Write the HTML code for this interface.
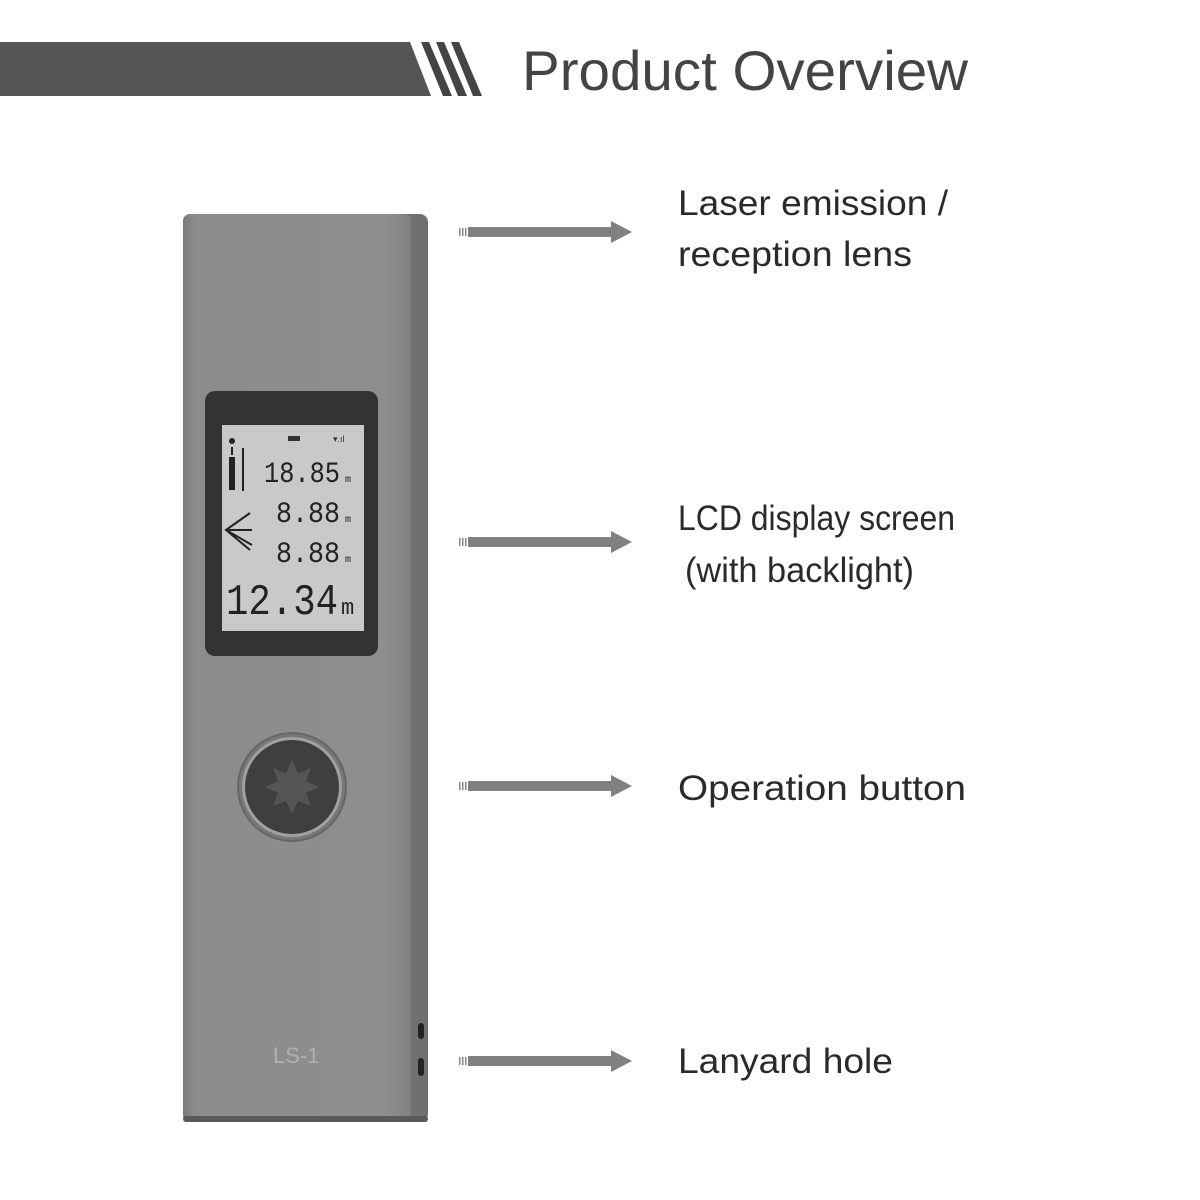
<!DOCTYPE html>
<html><head><meta charset="utf-8"><style>
html,body{margin:0;padding:0;background:#fff;width:1200px;height:1200px;overflow:hidden}
</style></head><body>
<svg width="1200" height="1200" viewBox="0 0 1200 1200" xmlns="http://www.w3.org/2000/svg">
<defs>
<linearGradient id="face" x1="0" x2="1" y1="0" y2="0">
<stop offset="0" stop-color="#7a7a7a"/><stop offset="0.05" stop-color="#8c8c8c"/><stop offset="0.9" stop-color="#8e8e8e"/><stop offset="1" stop-color="#808080"/>
</linearGradient>
<linearGradient id="side" x1="0" x2="1"><stop offset="0" stop-color="#6a6a6a"/><stop offset="0.5" stop-color="#8a8a8a"/><stop offset="1" stop-color="#6e6e6e"/></linearGradient>
<g id="arrow">
<rect x="0" y="-4" width="1.5" height="8" fill="#888"/>
<rect x="3" y="-4" width="1.5" height="8" fill="#888"/>
<rect x="6" y="-4" width="1.5" height="8" fill="#888"/>
<rect x="9" y="-5" width="146" height="10" fill="#808080"/>
<polygon points="152,-11 173,0 152,11" fill="#808080"/>
</g>
</defs>
<!-- header -->
<polygon points="0,42 410,42 431,96 0,96" fill="#555"/>
<polygon points="421,42 429,42 452,96 443,96" fill="#444"/>
<polygon points="436,42 444,42 467,96 458,96" fill="#444"/>
<polygon points="451,42 459,42 482,96 473,96" fill="#444"/>
<text x="522" y="90" font-family="Liberation Sans, sans-serif" font-size="56" fill="#444" textLength="446" lengthAdjust="spacingAndGlyphs">Product Overview</text>
<!-- device -->
<rect x="183" y="214" width="245" height="908" rx="8" fill="url(#side)"/>
<rect x="183" y="214" width="228" height="908" rx="7" fill="url(#face)"/>
<rect x="183" y="1116" width="245" height="6" rx="3" fill="#5a5a5a"/>
<!-- LCD -->
<rect x="205" y="391" width="173" height="265" rx="10" fill="#333"/>
<rect x="222" y="425" width="142" height="206" fill="#c9c9c9"/>
<g font-family="Liberation Mono, monospace" fill="#222">
<text x="264" y="482" font-size="30" textLength="76" lengthAdjust="spacingAndGlyphs">18.85</text>
<text x="276" y="522" font-size="30" textLength="64" lengthAdjust="spacingAndGlyphs">8.88</text>
<text x="276" y="562" font-size="30" textLength="64" lengthAdjust="spacingAndGlyphs">8.88</text>
<text x="226" y="614" font-size="44" textLength="112" lengthAdjust="spacingAndGlyphs">12.34</text>
<text x="345" y="482" font-size="10">m</text><text x="345" y="522" font-size="10">m</text><text x="345" y="562" font-size="10">m</text>
<text x="341" y="614" font-size="22">m</text>
</g>
<rect x="288" y="436" width="12" height="5" fill="#333"/>
<text x="333" y="442" font-size="9" fill="#333" font-family="Liberation Sans, sans-serif">▾.ıl</text>
<circle cx="232" cy="441" r="3" fill="#222"/>
<rect x="231" y="447" width="2" height="8" fill="#222"/>
<rect x="229" y="457" width="6" height="33" fill="#222"/>
<rect x="242" y="448" width="2" height="43" fill="#222"/>
<g stroke="#222" stroke-width="2" fill="none">
<path d="M250 513 L226 530 L250 550 M226 530 L252 530 M226 530 L252 545"/>
</g>
<!-- button -->
<circle cx="292" cy="787" r="54" fill="#777" stroke="#666" stroke-width="2"/>
<circle cx="292" cy="787" r="50" fill="#a0a0a0"/>
<circle cx="292" cy="787" r="47" fill="#3f3f3f"/>
<polygon fill="#555" points="292,760 298,773 311,768 306,781 319,787 306,793 311,806 298,801 292,814 286,801 273,806 278,793 265,787 278,781 273,768 286,773"/>
<text x="273" y="1063" font-family="Liberation Sans, sans-serif" font-size="22" fill="#b0b0b0">LS-1</text>
<rect x="418" y="1023" width="6" height="16" rx="3" fill="#222"/>
<rect x="418" y="1058" width="6" height="18" rx="3" fill="#222"/>
<!-- arrows -->
<use href="#arrow" x="459" y="232"/>
<use href="#arrow" x="459" y="542"/>
<use href="#arrow" x="459" y="786"/>
<use href="#arrow" x="459" y="1061"/>
<g font-family="Liberation Sans, sans-serif" font-size="35" fill="#2a2a2a">
<text x="678" y="215" textLength="270" lengthAdjust="spacingAndGlyphs">Laser emission /</text>
<text x="678" y="266" textLength="234" lengthAdjust="spacingAndGlyphs">reception lens</text>
<text x="678" y="530" textLength="277" lengthAdjust="spacingAndGlyphs">LCD display screen</text>
<text x="685" y="582" textLength="229" lengthAdjust="spacingAndGlyphs">(with backlight)</text>
<text x="678" y="800" textLength="288" lengthAdjust="spacingAndGlyphs">Operation button</text>
<text x="678" y="1073" textLength="215" lengthAdjust="spacingAndGlyphs">Lanyard hole</text>
</g>
</svg>
</body></html>
